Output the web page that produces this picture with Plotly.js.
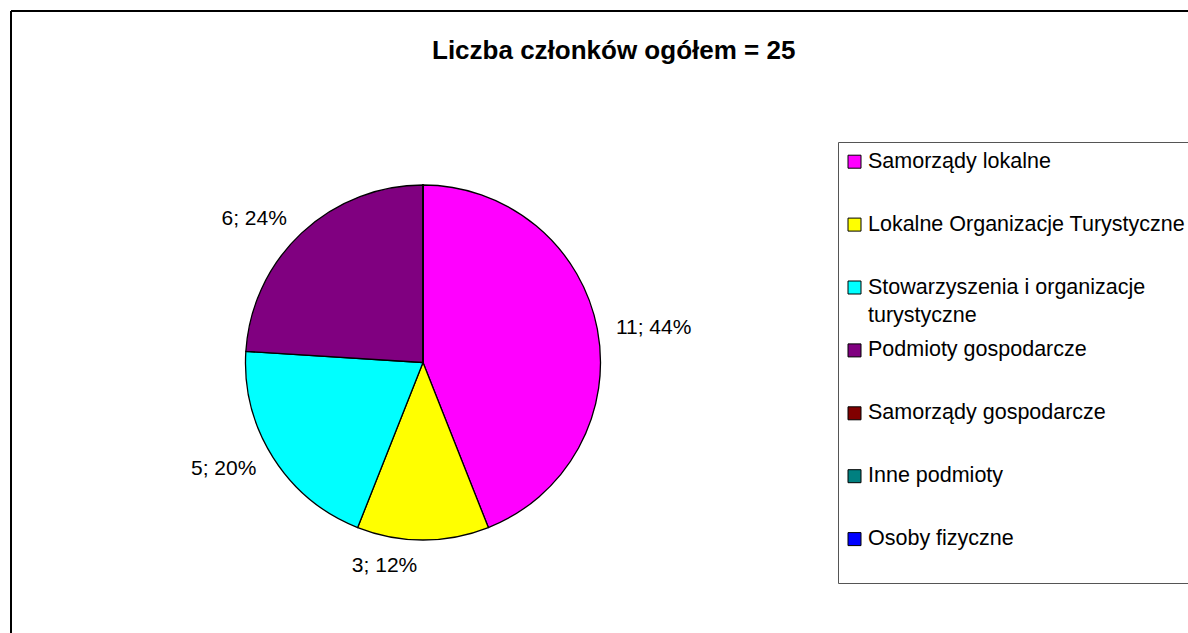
<!DOCTYPE html>
<html>
<head>
<meta charset="utf-8">
<script src="https://cdn.plot.ly/plotly-3.0.1.min.js"></script>
<style>html,body{margin:0;padding:0;background:#fff;}#chart{width:1188px;height:633px;}</style>
</head>
<body>
<div id="chart"></div>
<script>
// ---- data ----
const chartTitle = "Liczba członków ogółem = 25";
const categories = [
  "Samorządy lokalne",
  "Lokalne Organizacje Turystyczne",
  "Stowarzyszenia i organizacje turystyczne",
  "Podmioty gospodarcze",
  "Samorządy gospodarcze",
  "Inne podmioty",
  "Osoby fizyczne"
];
const memberCounts = [11, 3, 5, 6, 0, 0, 0];
const sliceColors = ["#FF00FF", "#FFFF00", "#00FFFF", "#800080", "#800000", "#008080", "#0000FF"];

// ---- layout constants (pixels) ----
const W = 1188, H = 633;
const px = x => x / W;
const py = y => 1 - y / H;
const FONT = "Liberation Sans, Arial, sans-serif";
const CX = 423, CY = 362.5, R = 177.5, LABEL_GAP = 13;

function wrap(s, max) {
  if (s.length <= max) return s;
  const cut = s.lastIndexOf(" ", max);
  return s.slice(0, cut) + "<br>" + s.slice(cut + 1);
}

const pieTrace = {
  type: "pie",
  labels: categories,
  values: memberCounts,
  marker: { colors: sliceColors, line: { color: "#000000", width: 1.3 } },
  sort: false,
  direction: "clockwise",
  rotation: 0,
  textinfo: "none",
  domain: { x: [px(CX - R), px(CX + R)], y: [py(CY + R), py(CY - R)] },
  showlegend: false,
  hoverinfo: "label+value+percent"
};

// transparent ring carrying the outside data labels (Excel puts them a little away from the rim)
const labelTrace = {
  type: "pie",
  labels: categories,
  values: memberCounts,
  marker: { colors: categories.map(() => "rgba(0,0,0,0)"), line: { width: 0 } },
  sort: false,
  direction: "clockwise",
  rotation: 0,
  textposition: "outside",
  texttemplate: memberCounts.map(v => v > 0 ? "%{value}; %{percent:.0%}" : ""),
  outsidetextfont: { family: FONT, size: 21, color: "#000000" },
  domain: { x: [px(CX - R - LABEL_GAP), px(CX + R + LABEL_GAP)], y: [py(CY + R + LABEL_GAP), py(CY - R - LABEL_GAP)] },
  showlegend: false,
  hoverinfo: "skip"
};

// custom Excel-like legend
const legTop = 161.7, legStep = 62.9;
const shapes = [
  { type: "line", xref: "paper", yref: "paper", x0: px(11), x1: px(1200), y0: py(11), y1: py(11), line: { color: "#000", width: 2 } },
  { type: "line", xref: "paper", yref: "paper", x0: px(11), x1: px(11), y0: py(11), y1: py(650), line: { color: "#000", width: 2 } },
  { type: "rect", xref: "paper", yref: "paper", x0: px(838.5), x1: px(1200), y0: py(142.5), y1: py(583.5), line: { color: "#555", width: 1 }, fillcolor: "rgba(0,0,0,0)" }
];
const annotations = [
  { text: "<b>" + chartTitle + "</b>", xref: "paper", yref: "paper", x: px(613), y: py(50), xanchor: "center", yanchor: "middle", showarrow: false, font: { family: FONT, size: 26, color: "#000" } }
];
categories.forEach((c, i) => {
  const cy = legTop + i * legStep;
  shapes.push({ type: "rect", xref: "paper", yref: "paper", x0: px(848), x1: px(861), y0: py(cy + 6.5), y1: py(cy - 6.5), fillcolor: sliceColors[i], line: { color: "#000", width: 1 } });
  annotations.push({ text: wrap(c, 32), xref: "paper", yref: "paper", x: px(866), y: py(cy - 15), xanchor: "left", yanchor: "top", align: "left", showarrow: false, font: { family: FONT, size: 21.5, color: "#000" } });
});

const layout = {
  width: W, height: H,
  margin: { l: 0, r: 0, t: 0, b: 0 },
  paper_bgcolor: "#ffffff",
  showlegend: false,
  shapes: shapes,
  annotations: annotations
};

Plotly.newPlot("chart", [pieTrace, labelTrace], layout, { displayModeBar: false, staticPlot: true });
</script>
</body>
</html>
